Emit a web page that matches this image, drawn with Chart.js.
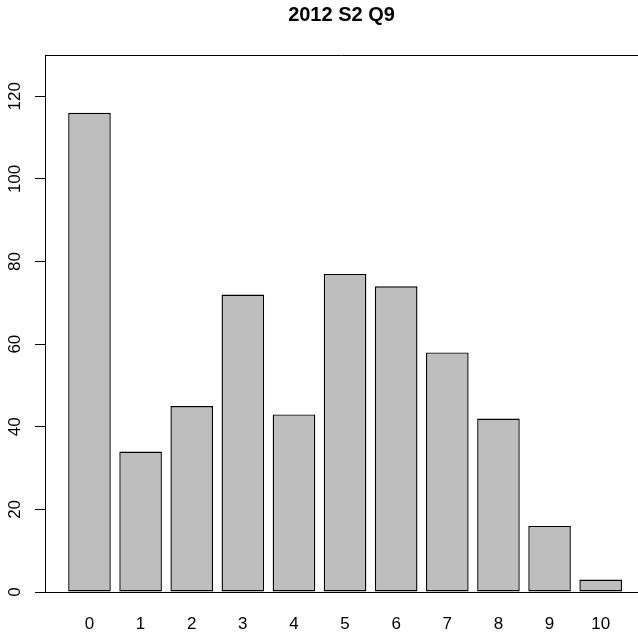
<!DOCTYPE html>
<html lang="en">
<head>
  <meta charset="UTF-8" />
  <title>2012 S2 Q9</title>
  <script src="https://cdn.jsdelivr.net/npm/chart.js"></script>
  <style>
    html, body { margin: 0; padding: 0; background: #fff; overflow: hidden; }
    #wrap { width: 638px; height: 634px; }
  </style>
</head>
<body>
  <div id="wrap"><canvas id="grafico"></canvas></div>
  <script>
    const categorias = ['0', '1', '2', '3', '4', '5', '6', '7', '8', '9', '10'];
    const cuentas = [116, 34, 45, 72, 43, 77, 74, 58, 42, 16, 3];
    const ticksY = [0, 20, 40, 60, 80, 100, 120];

    // top edge of the plot box (left and bottom come from the axes)
    const marco = {
      id: 'marco',
      afterDraw(chart) {
        const { ctx, chartArea } = chart;
        ctx.save();
        ctx.strokeStyle = '#000';
        ctx.lineWidth = 1;
        ctx.beginPath();
        ctx.moveTo(chartArea.left, chartArea.top + 0.5);
        ctx.lineTo(chartArea.right, chartArea.top + 0.5);
        ctx.stroke();
        ctx.restore();
      }
    };

    new Chart(document.getElementById('grafico'), {
      type: 'bar',
      data: {
        datasets: [{
          data: categorias.map((c, i) => ({ x: i, y: cuentas[i] })),
          backgroundColor: '#bebebe',
          borderColor: '#000',
          borderWidth: 1.4,
          borderSkipped: false,
          barPercentage: 1,
          categoryPercentage: 0.833
        }]
      },
      options: {
        responsive: true,
        maintainAspectRatio: false,
        animation: false,
        plugins: {
          legend: { display: false },
          tooltip: { enabled: false },
          title: {
            display: true,
            text: '2012 S2 Q9',
            fullSize: false,
            color: '#000',
            font: { family: 'Liberation Sans', size: 20, weight: 'bold' },
            padding: { top: 3, bottom: 28 }
          }
        },
        scales: {
          x: {
            type: 'linear',
            offset: false,
            min: -0.87,
            max: 10.73,
            afterFit: s => { s.height = 42; },
            afterBuildTicks: s => { s.ticks = categorias.map((c, i) => ({ value: i })); },
            grid: { display: false, drawTicks: false },
            border: { display: true, color: '#000', width: 1 },
            ticks: {
              autoSkip: false,
              maxRotation: 0,
              padding: 22,
              color: '#000',
              font: { family: 'Liberation Sans', size: 17 },
              callback: v => categorias[v]
            }
          },
          y: {
            min: 0,
            max: 130,
            afterFit: s => { s.width = 45; },
            afterBuildTicks: s => { s.ticks = ticksY.map(v => ({ value: v })); },
            grid: { drawOnChartArea: false, drawTicks: true, tickLength: 10, color: '#000' },
            border: { display: true, color: '#000', width: 1 },
            ticks: {
              minRotation: 90,
              maxRotation: 90,
              crossAlign: 'center',
              padding: 6,
              color: '#000',
              font: { family: 'Liberation Sans', size: 17 }
            }
          }
        }
      },
      plugins: [marco]
    });
  </script>
</body>
</html>
